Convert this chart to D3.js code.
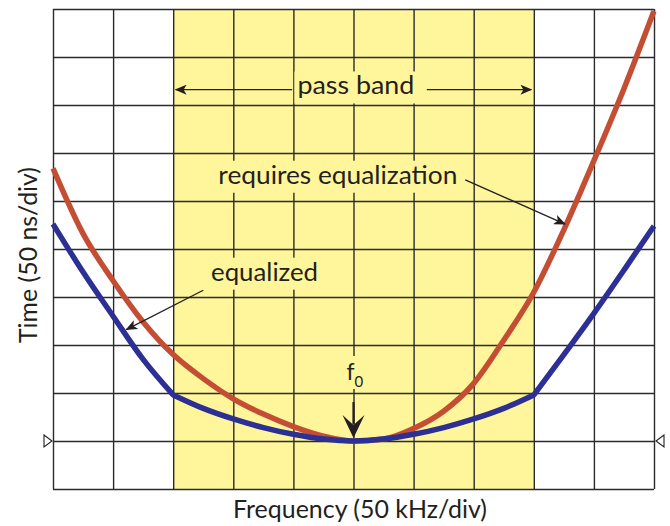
<!DOCTYPE html>
<html>
<head>
<meta charset="utf-8">
<script src="https://cdn.jsdelivr.net/npm/d3@7"></script>
<style>
body { margin: 0; background: #fff; }
text { font-family: Lato, "Noto Sans", sans-serif; fill: #231f20; }
</style>
</head>
<body>
<svg id="chart" width="670" height="526"></svg>
<script>
// group delay vs frequency
// frequency offset from f0 in kHz (50 kHz/div), delay in ns (50 ns/div)
var freq = [-250, -225, -200, -175, -150, -125, -100, -75, -50, -25, 0,
            25, 50, 75, 100, 125, 150, 175, 200, 225, 250];
var requiresEq = [334, 266, 217, 174, 140, 115, 94, 78, 65, 55, 50,
                  52, 63, 81, 110, 155, 205, 270, 342, 417, 498];
var equalized = [276, 226, 180, 135, 98, 84, 73, 64, 57, 52, 50,
                 52, 57, 64, 73, 84, 98, 140, 183, 228, 274];
var blueKinks = [-150, 150];   // equalizer corners
var passBand = [-150, 150];
var xTicks = d3.range(-250, 251, 50);
var yTicks = d3.range(0, 501, 50);
var refDelay = 50;

var svg = d3.select("#chart");
var x = d3.scaleLinear().domain([-250, 250]).range([53, 654]);
var y = d3.scaleLinear().domain([0, 500]).range([489, 9]);
var ink = "#231f20";

// pass band shading
svg.append("rect")
    .attr("x", x(passBand[0]))
    .attr("y", y(500))
    .attr("width", x(passBand[1]) - x(passBand[0]))
    .attr("height", y(0) - y(500))
    .attr("fill", "#fff59b");

// grid
var gx = svg.append("g")
    .attr("transform", "translate(0," + y(0) + ")")
    .call(d3.axisBottom(x).tickValues(xTicks).tickSize(-(y(0) - y(500))).tickFormat(""));
var gy = svg.append("g")
    .attr("transform", "translate(" + x(-250) + ",0)")
    .call(d3.axisLeft(y).tickValues(yTicks).tickSize(-(x(250) - x(-250))).tickFormat(""));
svg.selectAll(".domain").remove();
svg.selectAll(".tick line")
    .attr("stroke", "#2b2b2b")
    .attr("stroke-width", 1.4);

// annotations (positions in kHz / ns)
var labels = [
    {text: "pass band", fx: 2, ns: 411, w: 117},
    {text: "requires equalization", fx: -13, ns: 318, w: 239},
    {text: "equalized", fx: -74, ns: 217, w: 107}
];
var lab = svg.selectAll(".lab").data(labels).enter().append("g").attr("class", "lab");
lab.append("rect")
    .attr("x", function(d){ return x(d.fx) - d.w / 2 - 3; })
    .attr("y", function(d){ return y(d.ns) - 23; })
    .attr("width", function(d){ return d.w + 6; })
    .attr("height", 32)
    .attr("fill", "#fff59b");
lab.append("text")
    .attr("x", function(d){ return x(d.fx); })
    .attr("y", function(d){ return y(d.ns); })
    .attr("text-anchor", "middle")
    .attr("font-size", 25)
    .attr("textLength", function(d){ return d.w; })
    .attr("lengthAdjust", "spacingAndGlyphs")
    .text(function(d){ return d.text; });

// f0 marker
var cx = x(0), tipY = y(refDelay) - 3;
svg.append("rect")
    .attr("x", cx - 9).attr("y", tipY - 82)
    .attr("width", 22).attr("height", 33)
    .attr("fill", "#fff59b");
var f0 = svg.append("text")
    .attr("x", cx - 7).attr("y", tipY - 58)
    .attr("font-size", 23);
f0.append("tspan").text("f");
f0.append("tspan").attr("dy", 7).attr("font-size", 15).text("0");
svg.append("line")
    .attr("x1", cx).attr("x2", cx)
    .attr("y1", tipY - 36).attr("y2", tipY - 14)
    .attr("stroke", ink).attr("stroke-width", 2.2);
svg.append("path")
    .attr("d", "M" + cx + "," + tipY + "L" + (cx - 11) + "," + (tipY - 23) +
               "L" + cx + "," + (tipY - 13) + "L" + (cx + 11) + "," + (tipY - 23) + "Z")
    .attr("fill", ink);

// curves
var line = d3.line()
    .x(function(d){ return x(d[0]); })
    .y(function(d){ return y(d[1]); })
    .curve(d3.curveMonotoneX);
var pts = function(vals){ return freq.map(function(f, i){ return [f, vals[i]]; }); };

svg.append("path")
    .attr("d", line(pts(requiresEq)))
    .attr("fill", "none")
    .attr("stroke", "#c44e33")
    .attr("stroke-width", 5.5);

var cuts = [freq[0]].concat(blueKinks, [freq[freq.length - 1]]);
var blueD = d3.pairs(cuts).map(function(c, i){
    var s = line(pts(equalized).filter(function(d){ return d[0] >= c[0] && d[0] <= c[1]; }));
    return i ? "L" + s.slice(1) : s;
}).join("");
svg.append("path")
    .attr("d", blueD)
    .attr("fill", "none")
    .attr("stroke", "#2c2f93")
    .attr("stroke-width", 5.5)
    .attr("stroke-linejoin", "round");

// arrows
svg.append("defs").append("marker")
    .attr("id", "head")
    .attr("viewBox", "0 0 12 10")
    .attr("refX", 11).attr("refY", 5)
    .attr("markerWidth", 12).attr("markerHeight", 10)
    .attr("markerUnits", "userSpaceOnUse")
    .attr("orient", "auto")
  .append("path")
    .attr("d", "M0,0L12,5L0,10L3,5Z")
    .attr("fill", ink);

var arrows = [
    [-51, 416, -148, 416],
    [61, 416, 148, 416],
    [93, 322, 176, 276],
    [-125, 207, -189, 166]
];
svg.selectAll(".arrow").data(arrows).enter().append("line")
    .attr("x1", function(d){ return x(d[0]); })
    .attr("y1", function(d){ return y(d[1]); })
    .attr("x2", function(d){ return x(d[2]); })
    .attr("y2", function(d){ return y(d[3]); })
    .attr("stroke", ink)
    .attr("stroke-width", 1.3)
    .attr("marker-end", "url(#head)");

// reference delay triangles
var ry = y(refDelay);
svg.append("path")
    .attr("d", "M" + (x(-250) - 9) + "," + (ry - 6) + "L" + (x(-250) - 1) + "," + ry +
               "L" + (x(-250) - 9) + "," + (ry + 6) + "Z")
    .attr("fill", "#fff").attr("stroke", ink).attr("stroke-width", 1.1);
svg.append("path")
    .attr("d", "M" + (x(250) + 10) + "," + (ry - 6) + "L" + (x(250) + 2) + "," + ry +
               "L" + (x(250) + 10) + "," + (ry + 6) + "Z")
    .attr("fill", "#fff").attr("stroke", ink).attr("stroke-width", 1.1);

// axis titles
svg.append("text")
    .attr("x", 360).attr("y", 518)
    .attr("text-anchor", "middle")
    .attr("font-size", 25)
    .attr("textLength", 254)
    .attr("lengthAdjust", "spacingAndGlyphs")
    .text("Frequency (50 kHz/div)");
svg.append("text")
    .attr("transform", "translate(37,255) rotate(-90)")
    .attr("text-anchor", "middle")
    .attr("font-size", 25)
    .attr("textLength", 176)
    .attr("lengthAdjust", "spacingAndGlyphs")
    .text("Time (50 ns/div)");
</script>
</body>
</html>
